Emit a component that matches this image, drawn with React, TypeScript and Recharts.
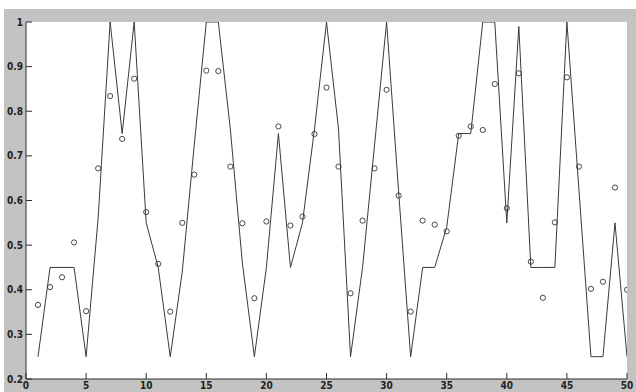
import React from "react";
import {
  ComposedChart, Line, XAxis, YAxis, CartesianGrid,
} from "recharts";

// step-ish target curve (solid line) and measured values (open circles), x = 1..50
const TARGET = [
  0.25, 0.45, 0.45, 0.45, 0.25, 0.56, 1, 0.75, 1, 0.55,
  0.45, 0.25, 0.44, 0.725, 1, 1, 0.76, 0.46, 0.25, 0.45,
  0.75, 0.45, 0.55, 0.76, 1, 0.76, 0.25, 0.45, 0.725, 1,
  0.62, 0.25, 0.45, 0.45, 0.54, 0.75, 0.75, 1, 1, 0.55,
  0.99, 0.45, 0.45, 0.45, 1, 0.625, 0.25, 0.25, 0.55, 0.25,
];
const MEASURED = [
  0.366, 0.406, 0.428, 0.506, 0.352, 0.672, 0.834, 0.738, 0.873, 0.574,
  0.458, 0.351, 0.55, 0.658, 0.891, 0.89, 0.676, 0.549, 0.381, 0.553,
  0.766, 0.544, 0.564, 0.749, 0.853, 0.676, 0.392, 0.555, 0.672, 0.848,
  0.611, 0.351, 0.555, 0.546, 0.531, 0.745, 0.766, 0.758, 0.861, 0.583,
  0.885, 0.463, 0.382, 0.551, 0.876, 0.676, 0.402, 0.418, 0.629, 0.4,
];
const X_TICKS = [0, 5, 10, 15, 20, 25, 30, 35, 40, 45, 50];
const Y_TICKS = [0.2, 0.3, 0.4, 0.5, 0.6, 0.7, 0.8, 0.9, 1];

const data = TARGET.map((t, i) => ({ x: i + 1, target: t, measured: MEASURED[i] }));

const W = 636;
const H = 392;
const INK = "#2e2e2e";
const FIG_GRAY = "#c3c3c3";
const TICK = 6;
const FONT = "'Liberation Sans Narrow', 'DejaVu Sans Condensed', 'Liberation Sans', Arial, sans-serif";

const labelStyle = { fontFamily: FONT, fontSize: 10, fontWeight: 700, fill: "#222" };

// matlab style: tick marks point into the box, labels only on left/bottom
function makeTick(side: "bottom" | "left" | "top" | "right") {
  return (props: any) => {
    const { x, y, payload } = props;
    const v = payload.value;
    if (side === "bottom") {
      return (
        <g>
          <line x1={x} y1={y} x2={x} y2={y - TICK} stroke={INK} strokeWidth={1} />
          <text x={x} y={y + 10} textAnchor="middle" style={labelStyle}>{String(v)}</text>
        </g>
      );
    }
    if (side === "left") {
      return (
        <g>
          <line x1={x} y1={y} x2={x + TICK} y2={y} stroke={INK} strokeWidth={1} />
          <text x={x - 3} y={y} dy="0.35em" textAnchor="end" style={labelStyle}>
            {v === 1 ? "1" : v.toFixed(1)}
          </text>
        </g>
      );
    }
    if (side === "top") {
      return <line x1={x} y1={y} x2={x} y2={y + TICK} stroke={INK} strokeWidth={1} />;
    }
    return <line x1={x} y1={y} x2={x - TICK} y2={y} stroke={INK} strokeWidth={1} />;
  };
}

export default function App() {
  return (
    <div style={{ position: "absolute", left: 0, top: 0, width: W, height: H, background: "#fff" }}>
      <div style={{ position: "absolute", left: 4, top: 9, right: 0, bottom: 0, background: FIG_GRAY }} />
      <div style={{ position: "absolute", left: 0, top: 0 }}>
        <ComposedChart width={W} height={H} data={data} margin={{ top: 22, right: 9, left: 0, bottom: 0 }}>
          <CartesianGrid horizontal={false} vertical={false} fill="#fff" stroke="none" />
          <XAxis dataKey="x" type="number" domain={[0, 50]} ticks={X_TICKS} interval={0}
            allowDataOverflow height={13} tickSize={0} tickMargin={0}
            axisLine={{ stroke: INK, strokeWidth: 1 }} tickLine={false} tick={makeTick("bottom")} />
          <XAxis xAxisId="top" dataKey="x" type="number" orientation="top" domain={[0, 50]} ticks={X_TICKS}
            interval={0} allowDataOverflow height={0} tickSize={0} tickMargin={0}
            axisLine={{ stroke: INK, strokeWidth: 1 }} tickLine={false} tick={makeTick("top")} />
          <YAxis type="number" domain={[0.2, 1]} ticks={Y_TICKS} interval={0} allowDataOverflow
            width={26} tickSize={0} tickMargin={0}
            axisLine={{ stroke: INK, strokeWidth: 1 }} tickLine={false} tick={makeTick("left")} />
          <YAxis yAxisId="right" type="number" orientation="right" domain={[0.2, 1]} ticks={Y_TICKS}
            interval={0} allowDataOverflow width={0} tickSize={0} tickMargin={0}
            axisLine={{ stroke: INK, strokeWidth: 1 }} tickLine={false} tick={makeTick("right")} />
          <Line dataKey="target" type="linear" stroke="#3a3a3a" strokeWidth={1} dot={false}
            isAnimationActive={false} />
          <Line dataKey="measured" type="linear" stroke="none" strokeWidth={0}
            dot={{ r: 2.6, fill: "none", stroke: "#333", strokeWidth: 0.9 }} activeDot={false}
            isAnimationActive={false} />
        </ComposedChart>
      </div>
    </div>
  );
}
